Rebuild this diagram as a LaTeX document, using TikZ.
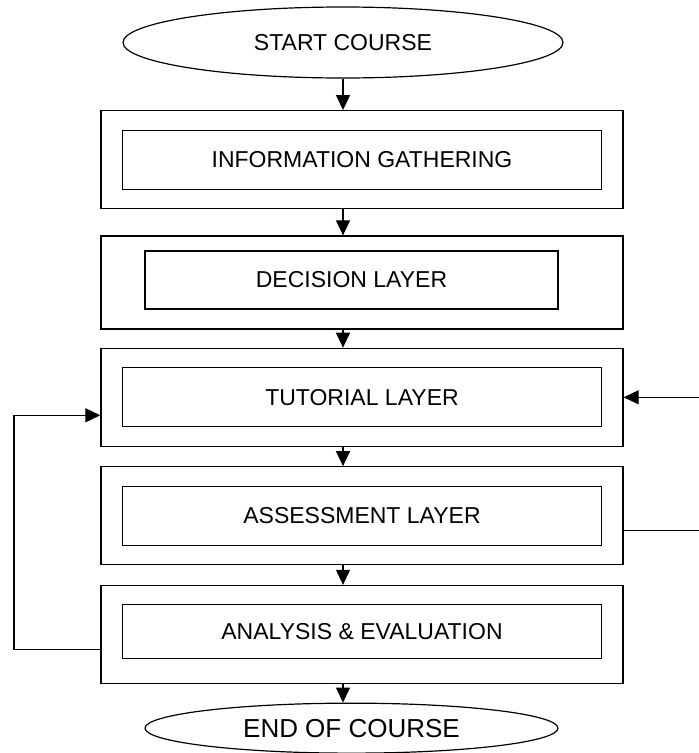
\documentclass[tikz,border=0pt]{standalone}
\usepackage{fontspec}
\setmainfont{Liberation Sans}
\usetikzlibrary{shapes.geometric,arrows.meta,positioning}

\begin{document}
\begin{tikzpicture}[x=1pt,y=-1pt,
  term/.style={draw,ellipse,line width=1.2pt,inner sep=0pt,font=\fontsize{23}{27}\selectfont},
  outbox/.style={draw,line width=1.3pt,minimum width=522pt,minimum height=98pt,inner sep=0pt},
  inbox/.style={draw,line width=1.3pt,minimum width=479pt,minimum height=59pt,inner sep=0pt,font=\fontsize{23}{27}\selectfont},
  arr/.style={-{Triangle[length=15pt,width=14pt]},line width=1.2pt}]
  \useasboundingbox (0,0) rectangle (699,753);
  \node[term,minimum width=440pt,minimum height=71pt] (start) at (343,42.5) {START COURSE};
  \node[outbox] (info) at (362,159.7) {};
  \node[inbox] (infoin) at (info) {INFORMATION GATHERING};
  \node[outbox,minimum height=93pt,below=26pt of info] (dec) {};
  \node[inbox,minimum width=413pt,minimum height=58pt] (decin) at ([shift={(-10.5pt,2.5pt)}]dec.center) {DECISION LAYER};
  \node[outbox,below=18pt of dec] (tut) {};
  \node[inbox] (tutin) at (tut) {TUTORIAL LAYER};
  \node[outbox,below=19.2pt of tut] (ass) {};
  \node[inbox] (assin) at (ass) {ASSESSMENT LAYER};
  \node[outbox,below=19.4pt of ass] (ana) {};
  \node[inbox,minimum height=54pt] (anain) at ([yshift=2.7pt]ana.center) {ANALYSIS \& EVALUATION};
  \node[term,minimum width=413pt,minimum height=50pt,font=\fontsize{26}{30}\selectfont,below=18.4pt of ana,xshift=-10.5pt] (end) {END OF COURSE};
  % main flow
  \draw[arr] (start) -- (info.north -| start);
  \draw[arr] (info.south -| start) -- (dec.north -| start);
  \draw[arr] (dec.south -| start) -- (tut.north -| start);
  \draw[arr] (tut.south -| start) -- (ass.north -| start);
  \draw[arr] (ass.south -| start) -- (ana.north -| start);
  \draw[arr] (ana.south -| start) -- (end.north -| start);
  % feedback loops
  \coordinate (lft) at (14,0);
  \coordinate (rgt) at (703,0);
  \draw[arr] ([yshift=-15pt]ana.west) -- ([yshift=-15pt]ana.west -| lft) |- ([yshift=-18pt]tut.west);
  \draw[arr] ([yshift=-15pt]ass.east) -- ([yshift=-15pt]ass.east -| rgt) |- (tut.east);
\end{tikzpicture}
\end{document}
